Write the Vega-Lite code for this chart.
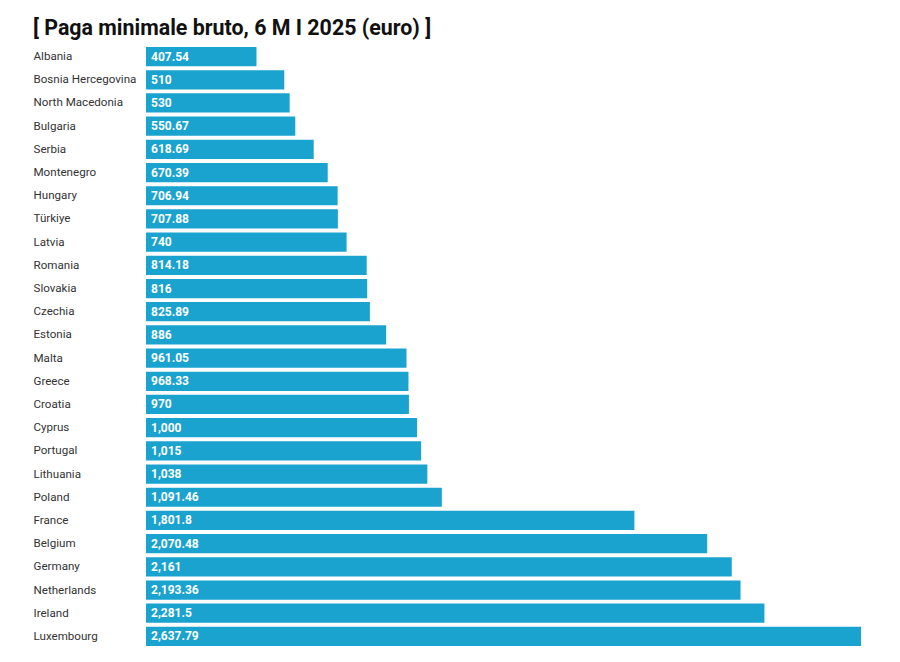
{
  "$schema": "https://vega.github.io/schema/vega-lite/v6.json",
  "autosize": "none",
  "width": 715,
  "height": 603,
  "padding": {"left": 146, "top": 45, "right": 39, "bottom": 14},
  "background": "white",
  "title": {
    "text": "[ Paga minimale bruto, 6 M I 2025 (euro) ]",
    "anchor": "start",
    "frame": "group",
    "dx": -113,
    "dy": 25,
    "offset": 14,
    "baseline": "alphabetic",
    "font": "Roboto",
    "fontSize": 21.4,
    "fontWeight": "bold",
    "color": "#111111"
  },
  "data": {
    "values": [
      {"country": "Albania", "value": 407.54},
      {"country": "Bosnia Hercegovina", "value": 510},
      {"country": "North Macedonia", "value": 530},
      {"country": "Bulgaria", "value": 550.67},
      {"country": "Serbia", "value": 618.69},
      {"country": "Montenegro", "value": 670.39},
      {"country": "Hungary", "value": 706.94},
      {"country": "Türkiye", "value": 707.88},
      {"country": "Latvia", "value": 740},
      {"country": "Romania", "value": 814.18},
      {"country": "Slovakia", "value": 816},
      {"country": "Czechia", "value": 825.89},
      {"country": "Estonia", "value": 886},
      {"country": "Malta", "value": 961.05},
      {"country": "Greece", "value": 968.33},
      {"country": "Croatia", "value": 970},
      {"country": "Cyprus", "value": 1000},
      {"country": "Portugal", "value": 1015},
      {"country": "Lithuania", "value": 1038},
      {"country": "Poland", "value": 1091.46},
      {"country": "France", "value": 1801.8},
      {"country": "Belgium", "value": 2070.48},
      {"country": "Germany", "value": 2161},
      {"country": "Netherlands", "value": 2193.36},
      {"country": "Ireland", "value": 2281.5},
      {"country": "Luxembourg", "value": 2637.79}
    ]
  },
  "encoding": {
    "y": {
      "field": "country",
      "type": "nominal",
      "sort": null,
      "title": null,
      "scale": {"paddingInner": 0.17, "paddingOuter": 0.085},
      "axis": {
        "domain": false,
        "ticks": false,
        "tickSize": 0,
        "labelAlign": "left",
        "labelPadding": 113,
        "labelLimit": 200,
        "labelOffset": 0.5,
        "labelFont": "Roboto",
        "labelFontSize": 11.6,
        "labelColor": "#333333",
        "grid": false
      }
    },
    "x": {
      "field": "value",
      "type": "quantitative",
      "scale": {"domain": [0, 2637.79], "nice": false, "zero": true},
      "axis": null
    }
  },
  "layer": [
    {
      "mark": {"type": "bar", "color": "#1aa3cf"}
    },
    {
      "mark": {
        "type": "text",
        "align": "left",
        "baseline": "middle",
        "dx": 5,
        "font": "Roboto",
        "fontSize": 12,
        "fontWeight": "bold",
        "color": "white"
      },
      "encoding": {
        "x": {"datum": 0, "type": "quantitative"},
        "text": {"field": "value", "type": "quantitative", "format": ",.2~f"}
      }
    }
  ],
  "config": {"view": {"stroke": null}}
}
